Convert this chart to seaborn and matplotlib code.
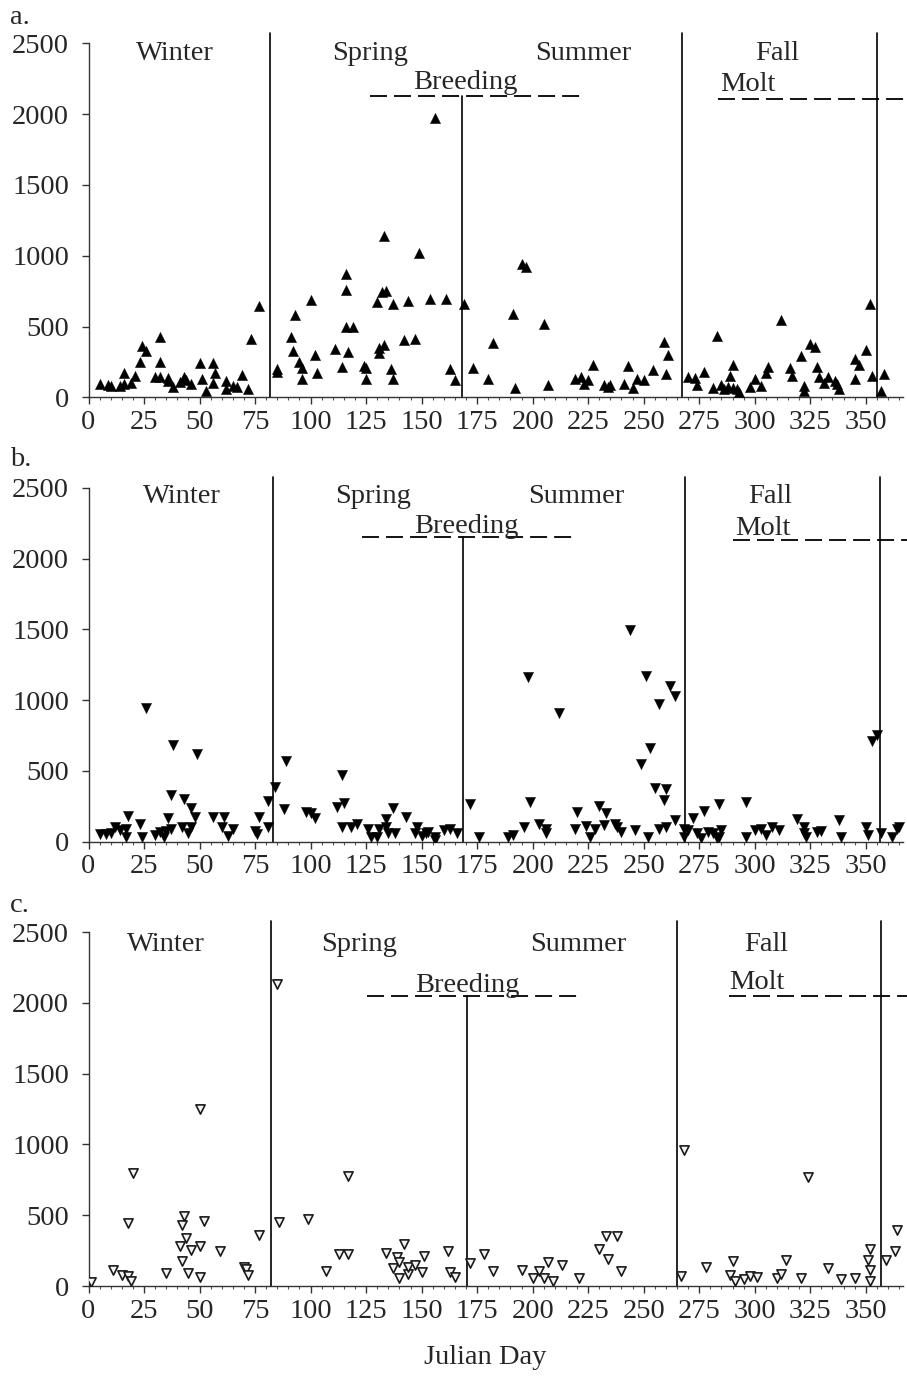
import matplotlib
matplotlib.use("Agg")
import matplotlib.pyplot as plt
import seaborn as sns
import pandas as pd
from matplotlib.ticker import MultipleLocator

# ================= Data =================
a_day = [5, 9, 10, 14, 16, 16, 19, 21, 23, 24, 26, 32, 32, 30, 32, 36, 36, 38, 41, 43,
         44, 46, 50, 51, 53, 56, 57, 56, 62, 62, 65, 67, 69, 72, 73, 77, 85, 85, 91, 93,
         92, 95, 96, 96, 100, 102, 103, 111, 114, 116, 116, 116, 119, 117, 124, 125, 125, 130, 132, 134,
         137, 131, 133, 131, 136, 137, 142, 147, 144, 154, 161, 163, 165, 169, 173, 180, 182, 133, 149, 156,
         191, 192, 195, 197, 205, 207, 219, 222, 223, 225, 227, 232, 234, 235, 241, 243, 245, 247, 250, 254,
         259, 261, 260, 270, 273, 274, 277, 281, 283, 285, 286, 288, 290, 292, 293, 289, 290, 298, 300, 303,
         305, 306, 312, 316, 317, 321, 322, 322, 325, 327, 328, 329, 331, 333, 336, 337, 338, 345, 347, 345,
         350, 352, 353, 358, 357]
a_val = [94, 85, 80, 80, 174, 92, 99, 151, 250, 361, 326, 425, 248, 142, 146, 137, 118, 75, 108, 140,
         120, 94, 240, 126, 47, 240, 174, 104, 115, 57, 80, 71, 158, 57, 410, 642, 200, 180, 429, 583,
         328, 250, 210, 132, 689, 297, 174, 344, 212, 871, 760, 500, 500, 323, 222, 205, 127, 675, 741, 750,
         660, 316, 368, 350, 200, 130, 406, 415, 680, 694, 694, 200, 120, 660, 210, 132, 387, 1137, 1019, 1972,
         585, 68, 940, 920, 519, 85, 130, 146, 94, 120, 229, 85, 71, 90, 92, 219, 64, 128, 123, 193,
         389, 300, 163, 144, 134, 85, 181, 64, 434, 85, 57, 71, 64, 57, 40, 151, 229, 71, 128, 80,
         170, 212, 547, 205, 151, 295, 78, 42, 375, 358, 212, 144, 99, 144, 118, 94, 57, 269, 229, 132,
         335, 660, 151, 163, 42]

b_day = [5, 8, 10, 12, 14, 17, 17, 18, 23, 24, 30, 32, 34, 35, 36, 37, 38, 37, 42, 43,
         45, 46, 48, 46, 49, 56, 61, 60, 63, 65, 75, 76, 77, 81, 81, 84, 88, 89, 98, 100,
         102, 112, 115, 114, 114, 118, 121, 126, 127, 130, 131, 134, 134, 137, 135, 138, 143, 147, 148, 150,
         152, 153, 156, 156, 160, 163, 166, 172, 176, 26, 189, 191, 196, 199, 198, 203, 206, 206, 212, 219,
         220, 224, 226, 228, 230, 233, 232, 237, 238, 240, 246, 252, 249, 253, 255, 260, 259, 257, 260, 244,
         251, 262, 264, 257, 264, 268, 270, 268, 272, 277, 274, 276, 279, 281, 283, 284, 285, 284, 296, 296,
         300, 303, 305, 308, 311, 319, 322, 322, 323, 328, 330, 338, 339, 350, 351, 353, 355, 357, 362, 364,
         365]
b_val = [54, 54, 59, 101, 85, 92, 31, 184, 125, 35, 47, 66, 35, 75, 165, 92, 684, 330, 104, 300,
         59, 236, 177, 106, 620, 172, 172, 101, 42, 89, 78, 54, 177, 106, 290, 385, 229, 573, 212, 200,
         165, 245, 271, 469, 106, 101, 125, 92, 35, 35, 87, 101, 158, 236, 59, 59, 177, 59, 106, 40,
         59, 70, 35, 12, 85, 92, 59, 266, 35, 943, 33, 47, 106, 283, 1162, 125, 59, 92, 908, 92,
         212, 113, 35, 92, 252, 205, 115, 125, 101, 66, 83, 35, 549, 662, 377, 373, 295, 92, 101, 1497,
         1171, 1101, 1030, 973, 151, 92, 85, 35, 170, 219, 59, 24, 66, 59, 24, 35, 82, 266, 283, 35,
         82, 92, 47, 101, 85, 158, 106, 59, 35, 66, 73, 151, 35, 101, 47, 714, 754, 59, 35, 92,
         106]

c_day = [1, 11, 15, 18, 19, 18, 20, 35, 42, 41, 44, 46, 50, 42, 43, 45, 50, 52, 59, 70,
         71, 72, 77, 85, 50, 86, 99, 107, 113, 117, 117, 134, 137, 139, 140, 140, 142, 144, 144, 147,
         150, 151, 162, 163, 165, 172, 178, 182, 195, 200, 203, 205, 207, 209, 213, 221, 230, 233, 238, 234,
         240, 268, 267, 278, 289, 291, 290, 295, 298, 301, 310, 312, 314, 324, 321, 333, 339, 345, 352, 351,
         352, 352, 359, 363, 364]
c_val = [30, 113, 80, 70, 33, 446, 798, 94, 178, 282, 336, 254, 284, 432, 493, 94, 61, 460, 244, 136,
         120, 80, 359, 2136, 1251, 453, 474, 103, 223, 223, 779, 230, 129, 202, 169, 56, 298, 87, 136, 147,
         98, 211, 246, 96, 61, 160, 223, 103, 115, 54, 106, 59, 169, 33, 150, 54, 263, 354, 354, 188,
         103, 962, 71, 136, 80, 33, 174, 47, 71, 65, 56, 84, 185, 770, 54, 129, 47, 56, 263, 185,
         115, 35, 185, 249, 394]

season_names = ["Winter", "Spring", "Summer", "Fall"]
x_ticks = list(range(0, 351, 25))
y_ticks = [0, 500, 1000, 1500, 2000, 2500]

# ================= Layout per panel (annotation positions) =================
PANELS = [
    dict(tag="a.", days=a_day, vals=a_val, marker="^", filled=True,
         bottom=1 - 397.3 / 1388, tag_y=1 - 17 / 1388,
         bounds=[81.7, 267.3, 355.2], breed_line=168.0,
         season_x=[39, 127, 223, 310], season_y=2380,
         breed_txt=(169.5, 2180), molt_txt=(297, 2160),
         breed_dash=(126.7, 223, 2128), molt_dash=(283.6, 370, 2110)),
    dict(tag="b.", days=b_day, vals=b_val, marker="v", filled=True,
         bottom=1 - 841.7 / 1388, tag_y=1 - 460 / 1388,
         bounds=[83.2, 268.7, 356.5], breed_line=168.8,
         season_x=[42, 128, 219.6, 307], season_y=2395,
         breed_txt=(170, 2182), molt_txt=(303.5, 2168),
         breed_dash=(123, 220, 2154), molt_dash=(290, 370, 2133)),
    dict(tag="c.", days=c_day, vals=c_val, marker="v", filled=False,
         bottom=1 - 1286 / 1388, tag_y=1 - 905 / 1388,
         bounds=[82, 265, 356.8], breed_line=170.4,
         season_x=[35, 122, 220.5, 305], season_y=2365,
         breed_txt=(170.5, 2077), molt_txt=(301, 2098),
         breed_dash=(125.5, 222, 2050), molt_dash=(288.5, 370, 2050)),
]

sns.set_style("ticks")
plt.rcParams['font.family'] = ['Liberation Serif', 'DejaVu Serif']
plt.rcParams['font.size'] = 20.5

FS = 20.5
DASH = (0, (9.4, 3.9))

fig = plt.figure(figsize=(9.07, 13.88), dpi=100)
left, width, height = 88.5 / 907, 815 / 907, 354 / 1388

for p in PANELS:
    ax = fig.add_axes([left, p["bottom"], width, height])
    df = pd.DataFrame({"day": p["days"], "val": p["vals"]})
    if p["filled"]:
        sns.scatterplot(data=df, x="day", y="val", ax=ax, marker=p["marker"],
                        s=54, color="black", edgecolor="black", linewidth=0.3, zorder=3)
    else:
        sns.scatterplot(data=df, x="day", y="val", ax=ax, marker=p["marker"],
                        s=44, facecolor="#f4f4f4", edgecolor="#1a1a1a", linewidth=1.2, zorder=3)

    # season boundaries (extend a bit above the axes top)
    for b in p["bounds"]:
        ax.plot([b, b], [0, 2575], color="black", lw=1.2, clip_on=False, zorder=2)
    ax.plot([p["breed_line"], p["breed_line"]], [0, p["breed_dash"][2]],
            color="black", lw=1.2, zorder=2)

    # breeding / molt dashed bars
    x0, x1, yd = p["breed_dash"]
    ax.plot([x0, x1], [yd, yd], color="black", lw=1.3, linestyle=DASH, clip_on=False)
    x0, x1, yd = p["molt_dash"]
    ax.plot([x0, x1], [yd, yd], color="black", lw=1.3, linestyle=DASH, clip_on=False)

    for name, sx in zip(season_names, p["season_x"]):
        ax.text(sx, p["season_y"], name, ha="center", va="baseline", fontsize=FS)
    ax.text(p["breed_txt"][0], p["breed_txt"][1], "Breeding", ha="center", va="baseline", fontsize=FS)
    ax.text(p["molt_txt"][0], p["molt_txt"][1], "Molt", ha="center", va="baseline", fontsize=FS)

    ax.set_xlim(0, 367)
    ax.set_ylim(0, 2500)
    ax.set_xticks(x_ticks)
    ax.set_yticks(y_ticks)
    ax.xaxis.set_minor_locator(MultipleLocator(5))
    ax.tick_params(axis="both", which="major", labelsize=FS, direction="out",
                   length=5, width=1, color="#333333")
    ax.tick_params(axis="x", which="major", pad=4)
    ax.tick_params(axis="y", which="major", pad=9)
    ax.tick_params(axis="x", which="minor", direction="out", length=2, width=0.8, color="#555555")
    ax.set_xlabel("")
    ax.set_ylabel("")
    for s in ["top", "right"]:
        ax.spines[s].set_visible(False)
    for s in ["left", "bottom"]:
        ax.spines[s].set_linewidth(1.0)
        ax.spines[s].set_color("#333333")

    fig.text(10 / 907, p["tag_y"], p["tag"], ha="left", va="center", fontsize=FS)

fig.text(485 / 907, 1 - 1357 / 1388, "Julian Day", ha="center", va="center", fontsize=FS)

fig.savefig("out.png", dpi=100)
